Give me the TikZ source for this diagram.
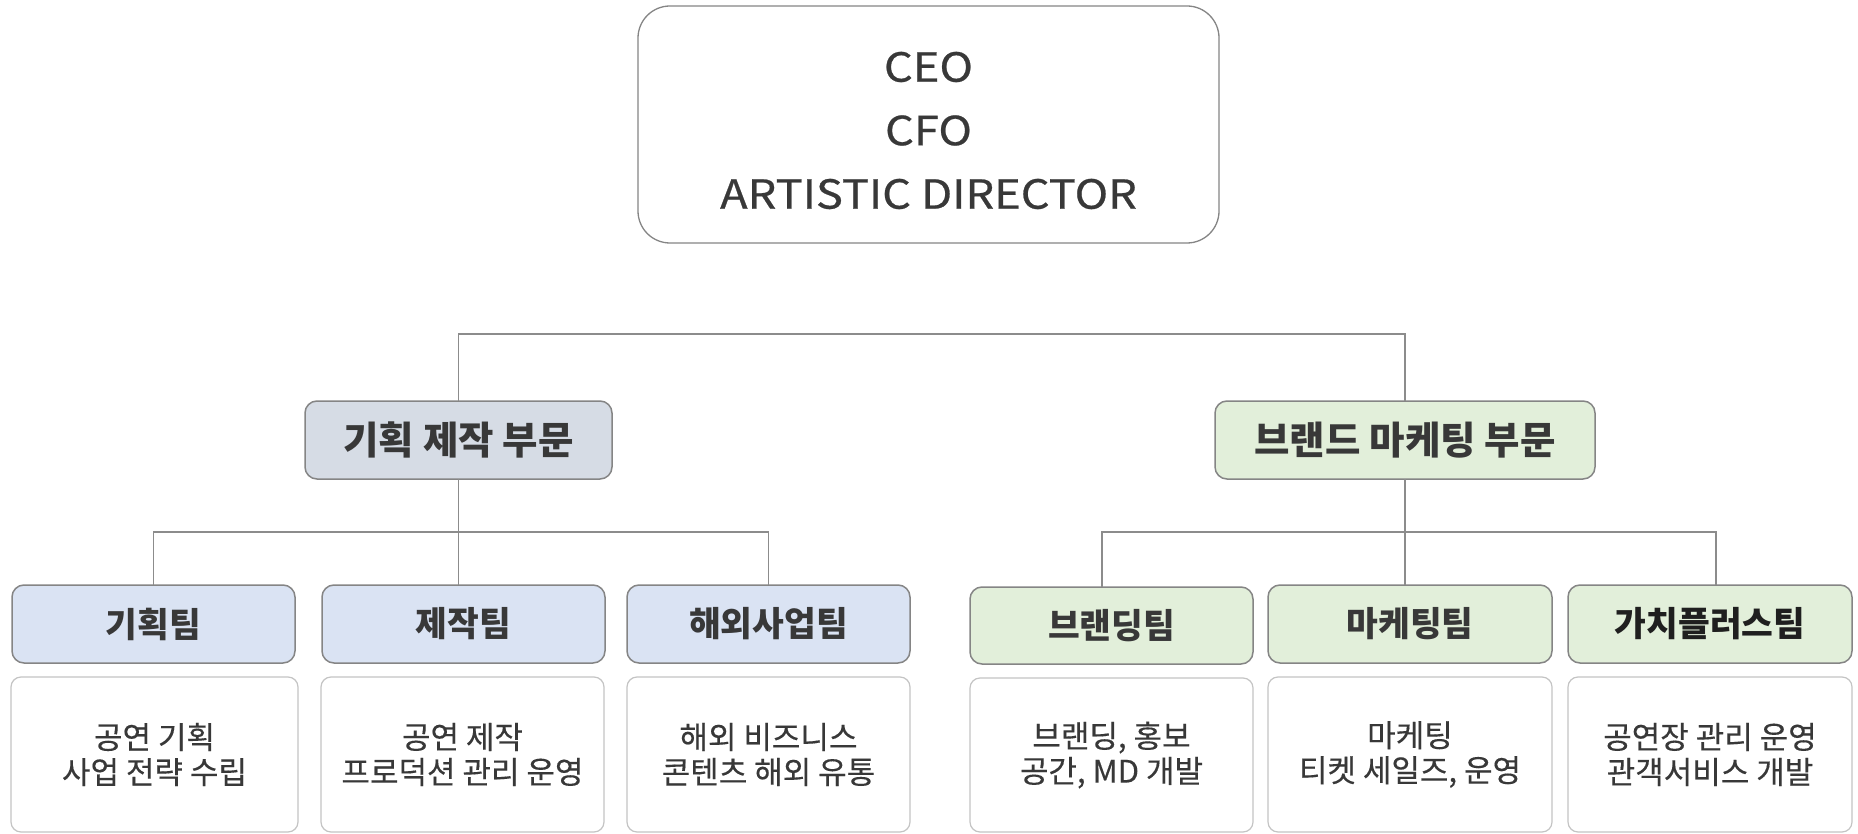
\documentclass[tikz,border=0pt]{standalone}
\usepackage{fontspec}
\setmainfont{Noto Sans CJK KR}
\newfontfamily\widefont[FakeStretch=1.13, FakeBold=0.6]{Noto Sans CJK KR}
\newfontfamily\descfont[FakeBold=0.3]{Noto Sans CJK KR}
\definecolor{textc}{HTML}{383838}
\definecolor{conngray}{HTML}{8C8C8C}
\definecolor{boxgray}{HTML}{858585}
\definecolor{descgray}{HTML}{C4C4C4}
\definecolor{divblue}{HTML}{D6DCE5}
\definecolor{teamblue}{HTML}{DAE3F3}
\definecolor{green}{HTML}{E2EFDA}
\begin{document}
\begin{tikzpicture}[x=1pt,y=-1pt,
  every node/.style={inner sep=0pt, outer sep=0pt, text=textc},
  topbox/.style={draw=boxgray, line width=1.3pt, rounded corners=32pt, fill=white, anchor=north west, minimum width=581pt, minimum height=237pt},
  divbox/.style={draw=boxgray, line width=1.5pt, rounded corners=12pt, anchor=north west, minimum height=78pt, font=\fontsize{38.5}{44}\selectfont\bfseries},
  teambox/.style={draw=boxgray, line width=1.5pt, rounded corners=12pt, anchor=north west, minimum width=283pt, minimum height=78pt, font=\fontsize{34.5}{40}\selectfont\bfseries},
  descbox/.style={draw=descgray, line width=1.2pt, rounded corners=10pt, anchor=north west, minimum width=283pt, minimum height=155pt, align=center, font=\descfont\fontsize{31}{35}\selectfont},
  conn/.style={draw=conngray, line width=1.5pt}
]
\useasboundingbox (0,0) rectangle (1858,834);
\fill[white] (0,0) rectangle (1858,834);

% top box
\node[topbox] (top) at (638,6) {};
\node[align=center, font=\widefont\fontsize{40}{63.5}\selectfont] (toptext) at (928.5,130.5) {CEO\\CFO\\ARTISTIC DIRECTOR};

% divisions
\node[divbox, fill=divblue, minimum width=307pt] (div1) at (305,401) {기획 제작 부문};
\node[divbox, fill=green, minimum width=380pt] (div2) at (1215,401) {브랜드 마케팅 부문};

% teams
\node[teambox, fill=teamblue] (t1) at (12,585) {기획팀};
\node[teambox, fill=teamblue] (t2) at (322,585) {제작팀};
\node[teambox, fill=teamblue] (t3) at (627,585) {해외사업팀};
\node[teambox, fill=green, minimum height=77pt] (t4) at (970,587) {브랜딩팀};
\node[teambox, fill=green, minimum width=284pt] (t5) at (1268,585) {마케팅팀};
\node[teambox, fill=green, minimum width=284pt, text=black!88] (t6) at (1568,585) {가치플러스팀};

% descriptions
\node[descbox, minimum width=287pt] (d1) at (11,677) {공연 기획\\사업 전략 수립};
\node[descbox] (d2) at (321,677) {공연 제작\\프로덕션 관리 운영};
\node[descbox] (d3) at (627,677) {해외 비즈니스\\콘텐츠 해외 유통};
\node[descbox, minimum height=154pt] (d4) at (970,678) {브랜딩, 홍보\\공간, MD 개발};
\node[descbox, minimum width=284pt] (d5) at (1268,677) {마케팅\\티켓 세일즈, 운영};
\node[descbox, minimum width=284pt] (d6) at (1568,677) {공연장 관리 운영\\관객서비스 개발};

% connector ends
\coordinate (c4) at ([xshift=-9.5pt]t4.north);
\coordinate (c6) at ([xshift=6pt]t6.north);

% connectors
\draw[conn] (div1.north) -- ++(0,-67) -| (div2.north);
\draw[conn] (div1.south) -- ++(0,53) coordinate (j1);
\draw[conn] (t1.north) |- (j1 -| t3.north) -- (t3.north);
\draw[conn] (j1) -- (j1 |- t2.north);
\draw[conn] (div2.south) -- ++(0,53) coordinate (j2);
\draw[conn] (c4) |- (j2 -| c6) -- (c6);
\draw[conn] (j2) -- (j2 |- t5.north);
\end{tikzpicture}
\end{document}
